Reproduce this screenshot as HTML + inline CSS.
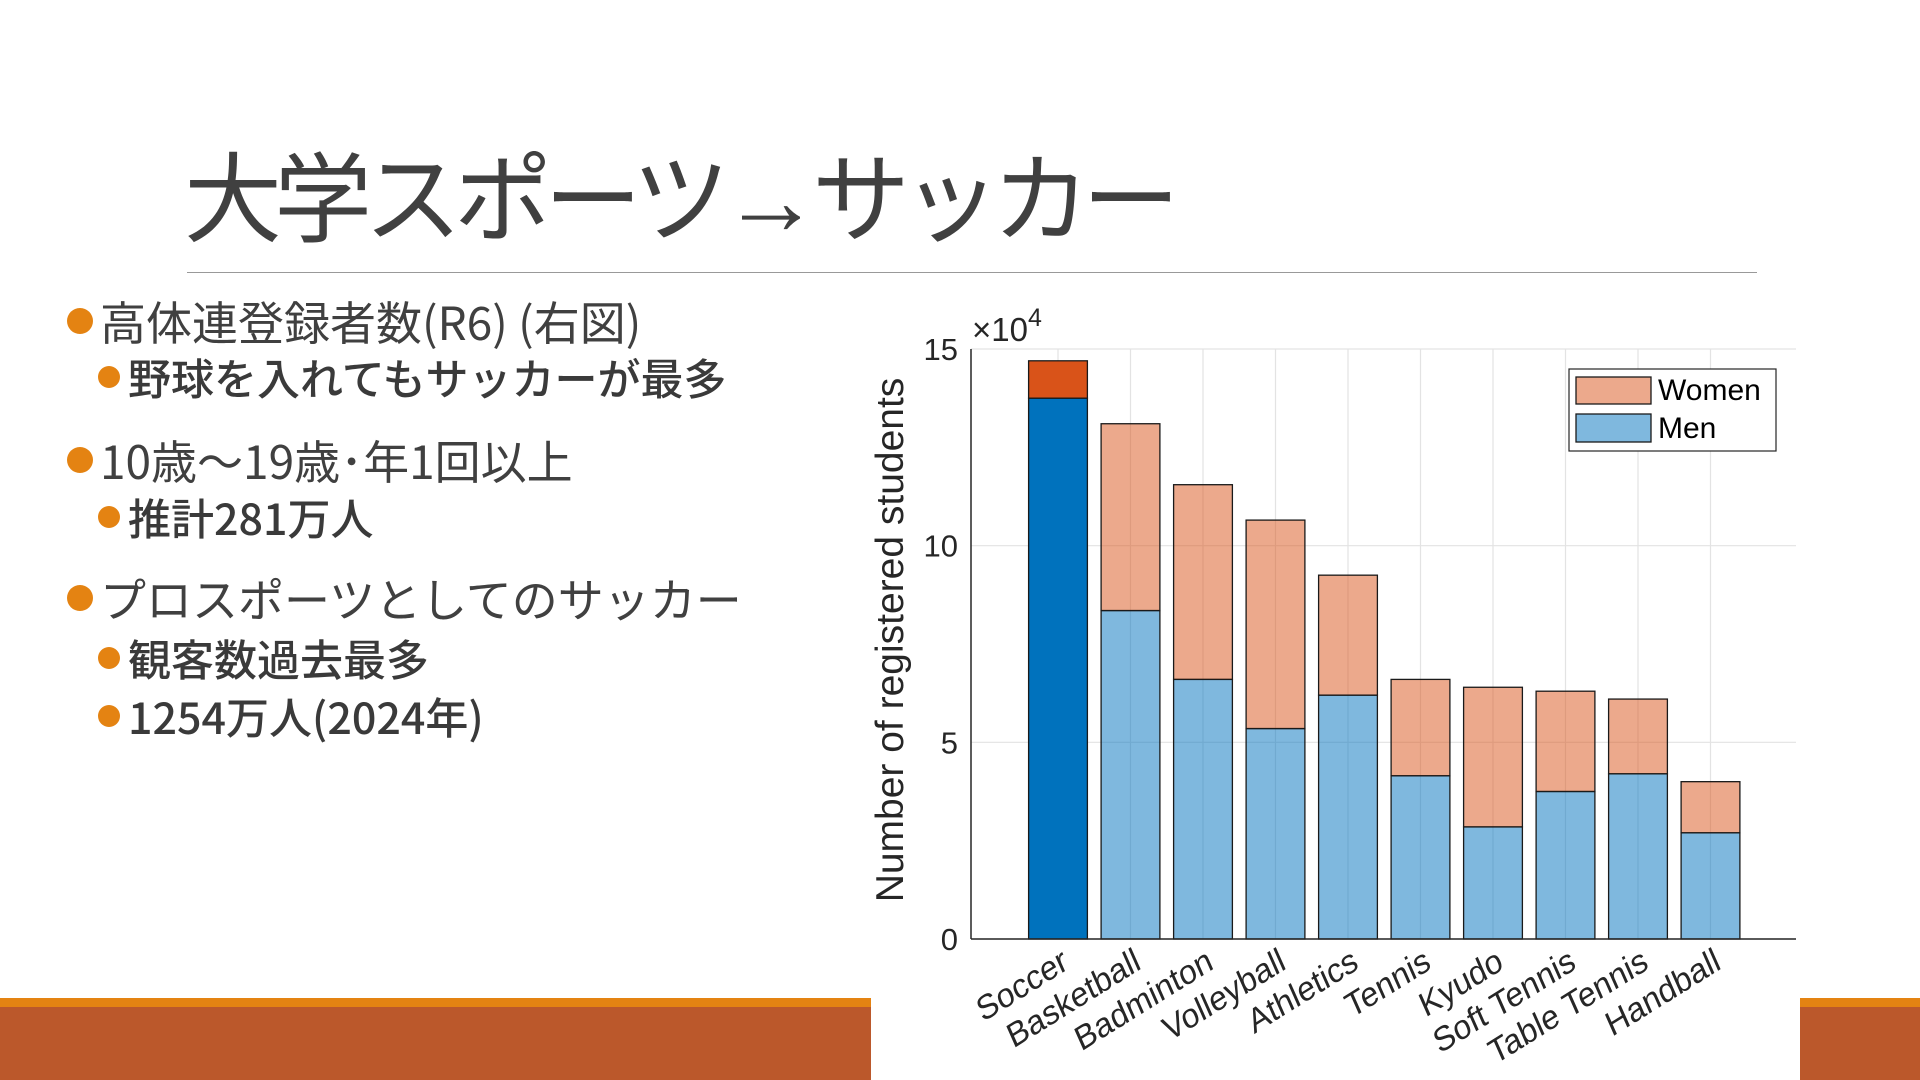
<!DOCTYPE html>
<html><head><meta charset="utf-8"><style>
body{margin:0;width:1920px;height:1080px;overflow:hidden;background:#fff;position:relative;font-family:"Liberation Sans","Noto Sans CJK JP",sans-serif;color:#404040}
.abs{position:absolute;white-space:nowrap}
.t1{font-size:46px;left:100px;font-family:"Noto Sans CJK JP","Liberation Sans",sans-serif;line-height:56px}
.t2{font-size:43px;left:128px;font-weight:500;font-family:"Noto Sans CJK JP","Liberation Sans",sans-serif;color:#3a3a3a;line-height:52px}
.d1,.d2{position:absolute;border-radius:50%;background:#E48312}
.d1{width:26px;height:26px;left:67px}
.d2{width:22px;height:22px;left:98px}
</style></head><body>
<div class="abs" style="left:184px;top:140px;font-size:98px;line-height:120px;letter-spacing:-8px">大学スポーツ→サッカー</div>
<div class="abs" style="left:187px;top:272px;width:1570px;height:1px;background:#999"></div>

<div class="d1" style="top:308px"></div>
<div class="abs t1" style="top:293px">高体連登録者数(R6) (右図)</div>
<div class="d2" style="top:366px"></div>
<div class="abs t2" style="top:351px">野球を入れてもサッカーが最多</div>
<div class="d1" style="top:447px"></div>
<div class="abs t1" style="top:432px">10歳～19歳･年1回以上</div>
<div class="d2" style="top:506px"></div>
<div class="abs t2" style="top:491px">推計281万人</div>
<div class="d1" style="top:585px"></div>
<div class="abs t1" style="top:570px">プロスポーツとしてのサッカー</div>
<div class="d2" style="top:647px"></div>
<div class="abs t2" style="top:632px">観客数過去最多</div>
<div class="d2" style="top:705px"></div>
<div class="abs t2" style="top:690px">1254万人(2024年)</div>

<div class="abs" style="left:0;top:998px;width:1920px;height:9px;background:#E48312"></div>
<div class="abs" style="left:0;top:1007px;width:1920px;height:73px;background:#BB582B"></div>
<div class="abs" style="left:871px;top:990px;width:929px;height:90px;background:#fff"></div>

<svg id="chart" class="abs" style="left:0;top:0" width="1920" height="1080" font-family="Liberation Sans, sans-serif"></svg>
<script>
const categories=["Soccer","Basketball","Badminton","Volleyball","Athletics","Tennis","Kyudo","Soft Tennis","Table Tennis","Handball"];
const men=[13.75,8.35,6.6,5.35,6.2,4.15,2.85,3.75,4.2,2.7];
const women=[0.95,4.75,4.95,5.3,3.05,2.45,3.55,2.55,1.9,1.3];
const yTicks=[0,5,10,15];
const NS="http://www.w3.org/2000/svg";
const svg=document.getElementById('chart');
const X0=971,X1=1796,Y0=939,Y15=349;
const y=v=>Y0-(v/15)*(Y0-Y15);
const x=i=>1058+i*72.5;
const bw=58.8;
function mk(t,a,p){const e=document.createElementNS(NS,t);for(const k in a)e.setAttribute(k,a[k]);(p||svg).appendChild(e);return e;}
yTicks.forEach(t=>{
  const g=mk('line',{x1:X0,x2:X1,y1:y(t),y2:y(t),stroke:'#e3e3e3','stroke-width':1.2});
  
  
  const l=mk('text',{x:958,y:y(t)+11,'text-anchor':'end','font-size':31,fill:'#262626'});
  l.textContent=t;
  
  
});
categories.forEach((c,i)=>{
  const g=mk('line',{x1:x(i),x2:x(i),y1:Y15,y2:Y0,stroke:'#e3e3e3','stroke-width':1.2});
  
  
});
categories.forEach((c,i)=>{
  const soccer=i===0;
  const m=mk('rect',{x:x(i)-bw/2,y:y(men[i]),width:bw,height:Y0-y(men[i]),fill:soccer?'#0072BD':'rgba(0,114,189,0.5)',stroke:'#1a1a1a','stroke-width':1.3});
  
  
  const w=mk('rect',{x:x(i)-bw/2,y:y(men[i]+women[i]),width:bw,height:y(men[i])-y(men[i]+women[i]),fill:soccer?'#D95319':'rgba(217,83,25,0.5)',stroke:'#1a1a1a','stroke-width':1.3});
  
  
  const t=mk('text',{x:0,y:0,'text-anchor':'end','font-size':33,fill:'#262626',transform:`translate(${x(i)+12},${968}) rotate(-32) skewX(-8)`});
  t.textContent=c;
  
  
});
const ax=mk('line',{x1:X0,x2:X1,y1:Y0,y2:Y0,stroke:'#262626','stroke-width':1.5});


const ay=mk('line',{x1:X0,x2:X0,y1:Y15,y2:Y0,stroke:'#262626','stroke-width':1.5});


const ex=mk('text',{x:972,y:341,'font-size':33,fill:'#262626'});
ex.innerHTML='×10<tspan dy="-15" font-size="25">4</tspan>';


const yl=mk('text',{x:0,y:0,'text-anchor':'middle','font-size':39,fill:'#262626',transform:'translate(903,640) rotate(-90)'});
yl.textContent='Number of registered students';


const lg=mk('g',{});


mk('rect',{x:1569,y:369,width:207,height:82,fill:'#fff',stroke:'#262626','stroke-width':1.2},lg);
mk('rect',{x:1576,y:377,width:75,height:27,fill:'rgba(217,83,25,0.5)',stroke:'#1a1a1a','stroke-width':1.3},lg);
mk('rect',{x:1576,y:414,width:75,height:28,fill:'rgba(0,114,189,0.5)',stroke:'#1a1a1a','stroke-width':1.3},lg);
const lw=mk('text',{x:1658,y:400,'font-size':30,fill:'#000'},lg);
lw.textContent='Women';


const lm=mk('text',{x:1658,y:438,'font-size':30,fill:'#000'},lg);
lm.textContent='Men';


</script>
</body></html>
